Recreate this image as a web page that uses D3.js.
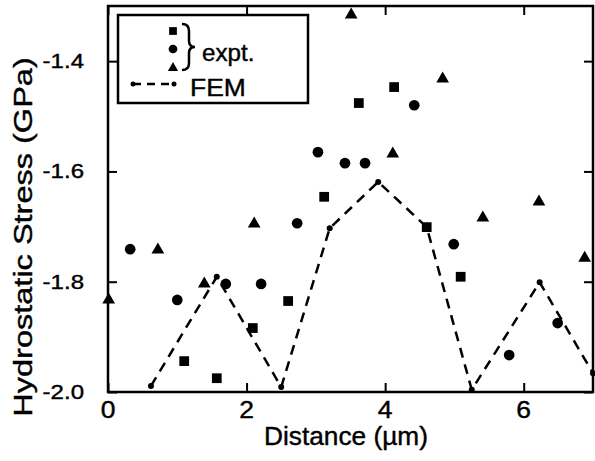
<!DOCTYPE html>
<html>
  <head>
    <meta charset="utf-8">
    <title>Hydrostatic Stress</title>
    <script src="https://d3js.org/d3.v7.min.js"></script>
    <style>
      body { margin: 0; background: #fff; font-family: "Liberation Sans", Arial, sans-serif; }
      text { fill: #000; stroke: #000; stroke-width: 0.4; }
    </style>
  </head>
  <body>
    <div id="chart"></div>
    <script>
      // measured values (distance in um, stress in GPa)
      var squareX = [1.10, 1.57, 2.09, 2.60, 3.12, 3.62, 4.13, 4.60, 5.09];
      var squareY = [-1.944, -1.975, -1.884, -1.835, -1.646, -1.476, -1.447, -1.701, -1.791];

      var circleX = [0.32, 1.00, 1.70, 2.21, 2.73, 3.03, 3.42, 3.71, 4.42, 4.99, 5.79, 6.49];
      var circleY = [-1.741, -1.833, -1.804, -1.804, -1.694, -1.565, -1.585, -1.585, -1.480, -1.732, -1.933, -1.875];

      var triangleX = [0.01, 0.72, 1.39, 2.11, 3.51, 4.11, 4.83, 5.41, 6.22, 6.88];
      var triangleY = [-1.833, -1.742, -1.804, -1.695, -1.316, -1.568, -1.432, -1.684, -1.655, -1.757];

      // FEM line
      var femX = [0.62, 1.57, 2.50, 3.20, 3.90, 4.60, 5.25, 6.23, 7.0];
      var femY = [-1.989, -1.791, -1.991, -1.703, -1.619, -1.701, -1.996, -1.801, -1.966];

      var xTicks = [0, 2, 4, 6];
      var yTicks = [-2.0, -1.8, -1.6, -1.4];

      var width = 595, height = 461;
      // plot frame in pixels (window.top is reserved, so use a prefix)
      var pLeft = 108, pRight = 593, pTop = 6, pBottom = 392;

      var svg = d3.select("#chart").append("svg")
        .attr("width", width)
        .attr("height", height);

      var x = d3.scaleLinear().domain([0, 7]).range([pLeft, pRight]);
      var y = d3.scaleLinear().domain([-2.0, -1.3]).range([pBottom, pTop]);

      var fmt = function(d) { return d.toFixed(1); };

      // axes with inward ticks on all four sides
      svg.append("g").attr("transform", "translate(0," + pBottom + ")")
        .call(d3.axisTop(x).tickValues(xTicks).tickSize(9).tickFormat(""));
      svg.append("g").attr("transform", "translate(0," + pTop + ")")
        .call(d3.axisBottom(x).tickValues(xTicks).tickSize(9).tickFormat(""));
      svg.append("g").attr("transform", "translate(" + pLeft + ",0)")
        .call(d3.axisRight(y).tickValues(yTicks).tickSize(9).tickFormat(""));
      svg.append("g").attr("transform", "translate(" + pRight + ",0)")
        .call(d3.axisLeft(y).tickValues(yTicks).tickSize(9).tickFormat(""));

      svg.selectAll(".domain").remove();
      svg.selectAll(".tick line").attr("stroke", "#000").attr("stroke-width", 2);

      svg.append("rect")
        .attr("x", pLeft).attr("y", pTop)
        .attr("width", pRight - pLeft).attr("height", pBottom - pTop)
        .attr("fill", "none").attr("stroke", "#000").attr("stroke-width", 2.5);

      // text is a bit wide in the scan
      function stretch(sel, k) {
        sel.each(function() {
          var w = this.getComputedTextLength();
          d3.select(this).attr("textLength", w * k).attr("lengthAdjust", "spacingAndGlyphs");
        });
      }

      svg.append("g").selectAll("text")
        .data(xTicks).enter().append("text")
          .attr("x", function(d) { return x(d); })
          .attr("y", 418)
          .attr("text-anchor", "middle")
          .attr("font-size", 23)
          .text(function(d) { return d; })
          .call(stretch, 1.15);

      svg.append("g").selectAll("text")
        .data(yTicks).enter().append("text")
          .attr("x", 84)
          .attr("y", function(d) { return y(d) + 7; })
          .attr("text-anchor", "end")
          .attr("font-size", 20)
          .text(fmt)
          .call(stretch, 1.2);

      // axis titles
      svg.append("text")
        .attr("x", 346).attr("y", 445)
        .attr("text-anchor", "middle")
        .attr("font-size", 25)
        .text("Distance (\u00b5m)")
        .call(stretch, 1.05);

      svg.append("text")
        .attr("transform", "translate(32,237) rotate(-90)")
        .attr("text-anchor", "middle")
        .attr("font-size", 25)
        .text("Hydrostatic Stress (GPa)")
        .call(stretch, 1.3);

      // FEM dashed line
      var femPts = femX.map(function(d, i) { return [d, femY[i]]; });
      var line = d3.line()
        .x(function(d) { return x(d[0]); })
        .y(function(d) { return y(d[1]); });

      svg.append("path")
        .datum(femPts)
        .attr("d", line)
        .attr("fill", "none")
        .attr("stroke", "#000")
        .attr("stroke-width", 2.5)
        .attr("stroke-dasharray", "10,7");

      svg.append("g").selectAll("circle")
        .data(femPts).enter().append("circle")
          .attr("cx", function(d) { return x(d[0]); })
          .attr("cy", function(d) { return y(d[1]); })
          .attr("r", 3)
          .attr("fill", "#000");

      // experimental points
      var sym = {
        square: d3.symbol().type(d3.symbolSquare).size(95),
        circle: d3.symbol().type(d3.symbolCircle).size(90),
        triangle: d3.symbol().type(d3.symbolTriangle).size(70)
      };

      function drawPoints(xs, ys, path) {
        svg.append("g").selectAll("path")
          .data(xs).enter().append("path")
            .attr("transform", function(d, i) { return "translate(" + x(d) + "," + y(ys[i]) + ")"; })
            .attr("d", path)
            .attr("fill", "#000");
      }

      drawPoints(squareX, squareY, sym.square);
      drawPoints(circleX, circleY, sym.circle);
      drawPoints(triangleX, triangleY, sym.triangle);

      // legend
      var lg = svg.append("g");
      lg.append("rect")
        .attr("x", 118).attr("y", 15)
        .attr("width", 190).attr("height", 88)
        .attr("fill", "#fff").attr("stroke", "#000").attr("stroke-width", 2.5);

      var legSym = {
        square: d3.symbol().type(d3.symbolSquare).size(60),
        circle: d3.symbol().type(d3.symbolCircle).size(60),
        triangle: d3.symbol().type(d3.symbolTriangle).size(45)
      };
      lg.append("path").attr("transform", "translate(173,31)").attr("d", legSym.square).attr("fill", "#000");
      lg.append("path").attr("transform", "translate(173,49)").attr("d", legSym.circle).attr("fill", "#000");
      lg.append("path").attr("transform", "translate(173,68)").attr("d", legSym.triangle).attr("fill", "#000");

      // brace
      lg.append("path")
        .attr("d", "M182,24 Q189,24 189,31 L189,41 Q189,47 195,47 Q189,47 189,53 L189,63 Q189,70 182,70")
        .attr("fill", "none").attr("stroke", "#000").attr("stroke-width", 2.5);

      lg.append("text")
        .attr("x", 202).attr("y", 61)
        .attr("font-size", 23)
        .text("expt.")
        .call(stretch, 1.05);

      lg.append("line")
        .attr("x1", 133).attr("x2", 174).attr("y1", 84).attr("y2", 84)
        .attr("stroke", "#000").attr("stroke-width", 2.5)
        .attr("stroke-dasharray", "8,6");
      lg.selectAll("circle.end")
        .data([133, 174]).enter().append("circle")
          .attr("cx", function(d) { return d; })
          .attr("cy", 84)
          .attr("r", 2.5)
          .attr("fill", "#000");

      lg.append("text")
        .attr("x", 190).attr("y", 96)
        .attr("font-size", 23)
        .text("FEM")
        .call(stretch, 1.15);
    </script>
  </body>
</html>
